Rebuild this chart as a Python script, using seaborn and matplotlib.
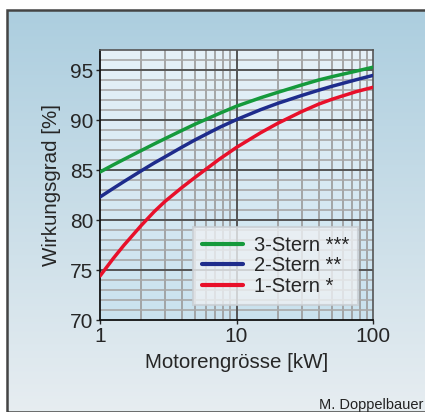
import numpy as np
import pandas as pd
import matplotlib
matplotlib.use("Agg")
import matplotlib.pyplot as plt
from matplotlib.patches import Rectangle
from matplotlib.ticker import FixedLocator, NullFormatter
import seaborn as sns

# data
power_kw = [1, 1.25, 1.5, 2, 2.5, 3, 4, 5, 7.5, 10, 15, 20, 30, 40, 50, 75, 100]
eff_3stern = [84.8, 85.51, 86.07, 86.94, 87.61, 88.14, 88.97, 89.6, 90.66, 91.38, 92.22, 92.76, 93.5, 94.0, 94.33, 94.88, 95.28]
eff_2stern = [82.3, 83.16, 83.85, 84.91, 85.71, 86.32, 87.3, 88.03, 89.26, 90.04, 91.03, 91.66, 92.45, 92.98, 93.37, 94.02, 94.46]
eff_1stern = [74.4, 76.15, 77.49, 79.44, 80.85, 81.87, 83.27, 84.29, 86.09, 87.26, 88.72, 89.66, 90.84, 91.59, 92.07, 92.83, 93.27]
series_names = ["3-Stern ***", "2-Stern **", "1-Stern *"]
series_colors = ["#159a3c", "#1e2c8c", "#e8102a"]
y_ticks = [70, 75, 80, 85, 90, 95]
x_ticks = [1, 10, 100]
x_ticklabels = ["1", "10", "100"]

df = pd.concat([
    pd.DataFrame({"kW": power_kw, "eff": vals, "Klasse": name})
    for name, vals in zip(series_names, [eff_3stern, eff_2stern, eff_1stern])
])

sns.set_style("white")
plt.rcParams["font.family"] = ["Liberation Sans", "DejaVu Sans"]

W, H = 425, 412
fig = plt.figure(figsize=(W / 100, H / 100), dpi=100)
fig.patch.set_facecolor("white")

# outer panel with gradient
bg = fig.add_axes([7 / W, 0, 1 - 7 / W, 1 - 10 / H], zorder=-10)
grad = np.linspace(0, 1, 256)[:, None]
c_top = np.array([0.675, 0.808, 0.875])
c_bot = np.array([0.905, 0.930, 0.945])
img = c_top[None, None, :] * (1 - grad[:, :, None]) + c_bot[None, None, :] * grad[:, :, None]
bg.imshow(img, aspect="auto", extent=[0, 1, 0, 1], origin="upper")
bg.set_xlim(0, 1)
bg.set_ylim(0, 1)
bg.axis("off")
bg.add_patch(Rectangle((0, 0), 1.2, 1, fill=False, edgecolor="#444444", lw=1.8,
                       transform=bg.transAxes, clip_on=False))

ax = fig.add_axes([100 / W, 1 - 320 / H, 273 / W, 270 / H])
ax.set_facecolor("none")
pc_top = np.array([0.900, 0.945, 0.972])
pc_bot = np.array([0.790, 0.885, 0.935])
pimg = pc_top[None, None, :] * (1 - grad[:, :, None]) + pc_bot[None, None, :] * grad[:, :, None]
ax.imshow(pimg, aspect="auto", extent=[0, 1, 0, 1], origin="upper",
          transform=ax.transAxes, zorder=0)

sns.lineplot(data=df, x="kW", y="eff", hue="Klasse", hue_order=series_names,
             palette=series_colors, linewidth=2.5, ax=ax, legend=True, zorder=5)
for ln in ax.get_lines():
    ln.set_solid_joinstyle("round")

ax.set_xscale("log")
ax.set_xlim(1, 100)
ax.set_ylim(70, 97)

# grid
minor_x = [m * d for d in (1, 10) for m in range(2, 10)]
for xv in minor_x:
    ax.axvline(xv, color="#9a9a9a", lw=1.2, zorder=1)
ax.axvline(10, color="#555555", lw=1.4, zorder=2)
for yv in range(71, 97):
    if yv % 5:
        ax.axhline(yv, color="#a8a8a8", lw=1.2, zorder=1)
for yv in (75, 80, 85, 90, 95):
    ax.axhline(yv, color="#555555", lw=1.4, zorder=2)

ax.set_yticks(y_ticks)
ax.set_yticklabels([str(v) for v in y_ticks])
ax.set_xticks(x_ticks)
ax.set_xticklabels(x_ticklabels)
ax.xaxis.set_minor_locator(FixedLocator([]))
ax.xaxis.set_minor_formatter(NullFormatter())
ax.tick_params(axis="both", which="major", labelsize=15, length=3, width=1,
               color="#222222", pad=2, left=True, bottom=True)
ax.tick_params(axis="x", pad=2)

for side in ["left", "bottom"]:
    ax.spines[side].set_color("#111111")
    ax.spines[side].set_linewidth(1.3)
for side in ["top", "right"]:
    ax.spines[side].set_color("#555555")
    ax.spines[side].set_linewidth(1.2)
    ax.spines[side].set_visible(True)

ax.set_xlabel("Motorengrösse [kW]", fontsize=14.8, labelpad=5)
ax.set_ylabel("Wirkungsgrad [%]", fontsize=14.8, labelpad=6)

leg = ax.legend(loc="lower right", bbox_to_anchor=(0.945, 0.055), fontsize=14.5,
                frameon=True, fancybox=False, handlelength=2.0, handletextpad=0.55,
                labelspacing=0.08, borderpad=0.45, borderaxespad=0)
leg.get_frame().set_facecolor("#eef1f4")
leg.get_frame().set_edgecolor("#c8cdd2")
leg.get_frame().set_linewidth(1.5)
leg.set_zorder(10)
for line in leg.get_lines():
    line.set_linewidth(3.0)

fig.text(423 / W, 1 - 405 / H, "M. Doppelbauer", ha="right", va="center",
         fontsize=10.5, color="#222222")

fig.savefig("out.png", dpi=100)
